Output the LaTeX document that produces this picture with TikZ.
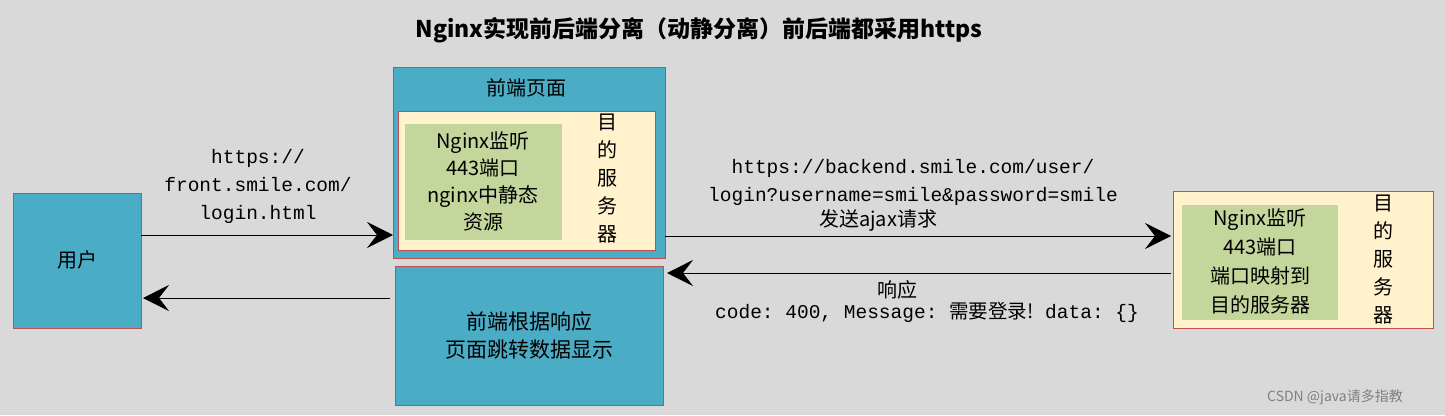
\documentclass[tikz,border=0pt]{standalone}
\usepackage{fontspec}
\setmainfont{Liberation Serif}
\setmonofont{Liberation Mono}
\newfontfamily\cjk{Noto Sans CJK SC}
\usetikzlibrary{arrows.meta}
\definecolor{teal}{HTML}{4BACC6}
\definecolor{cream}{HTML}{FFF2CC}
\definecolor{grn}{HTML}{C3D69B}
\definecolor{bord}{HTML}{C0504D}
\definecolor{bg}{HTML}{D9D9D9}
\begin{document}
\begin{tikzpicture}[x=1pt,y=-1pt,
  box/.style={draw=bord,line width=0.8pt},
  lbl/.style={align=center,inner sep=0pt,font=\cjk\fontsize{20}{27}\selectfont},
  mono/.style={align=center,inner sep=0pt,font=\ttfamily\fontsize{19.5}{28}\selectfont},
  arr/.style={-{Stealth[length=26pt,width=26pt,inset=10pt]},line width=0.8pt}]
\fill[bg] (0,0) rectangle (1445,415);
\useasboundingbox (0,0) rectangle (1445,415);
\node[font=\cjk\bfseries\fontsize{23}{26}\selectfont] (title) at (699,30) {Nginx实现前后端分离（动静分离）前后端都采用https};
% user
\draw[box,fill=teal] (13,193) rectangle (141,328);
\node[lbl] (user) at (77,260) {用户};
\coordinate (uR1) at (141,235);
\coordinate (uR2) at (143,298);
% front page
\draw[box,fill=teal] (393,67) rectangle (665,258);
\node[lbl] (fp) at (526,88) {前端页面};
\draw[box,fill=cream] (398,111) rectangle (655,250);
\fill[grn] (405,124) rectangle (562,240);
\node[lbl] (fn) at (483,181) {Nginx监听\\443端口\\nginx中静态\\资源};
\node[lbl,font=\cjk\fontsize{20}{28}\selectfont] (fv) at (607,179) {目\\的\\服\\务\\器};
\coordinate (fL) at (393,235);
\coordinate (fR) at (665,236);
% bottom
\draw[box,fill=teal] (395,266) rectangle (663,405);
\node[lbl,font=\cjk\fontsize{21}{28}\selectfont] (bt) at (529,335) {前端根据响应\\页面跳转数据显示};
\coordinate (bL) at (390,298);
\coordinate (bR) at (667,273);
% right server
\draw[box,fill=cream] (1173,191) rectangle (1433,328);
\fill[grn] (1182,205) rectangle (1338,320);
\node[lbl,font=\cjk\fontsize{20}{29}\selectfont] (rn) at (1260,261) {Nginx监听\\443端口\\端口映射到\\目的服务器};
\node[lbl,font=\cjk\fontsize{20}{28}\selectfont] (rv) at (1383,260) {目\\的\\服\\务\\器};
\coordinate (rL1) at (1171,236);
\coordinate (rL2) at (1171,273);
% arrows
\draw[arr] (uR1) -- (fL);
\draw[arr] (fR) -- (rL1);
\draw[arr] (rL2) -- (bR);
\draw[arr] (bL) -- (uR2);
% labels
\node[mono] (l1) at (258,186) {https://\\front.smile.com/\\login.html};
\node[mono] (l2) at (913,182) {https://backend.smile.com/user/\\login?username=smile\&password=smile};
\node[lbl] (l3) at (878,220) {发送ajax请求};
\node[lbl] (l4) at (897,290) {响应};
\node[inner sep=0pt,font=\ttfamily\fontsize{19.5}{22}\selectfont] (l5) at (927,312) {code: 400, Message: {\cjk 需要登录!} data: \{\}};
\node[font=\cjk\fontsize{14}{16}\selectfont,text=gray] (wm) at (1335,397) {CSDN @java请多指教};
\end{tikzpicture}
\end{document}
